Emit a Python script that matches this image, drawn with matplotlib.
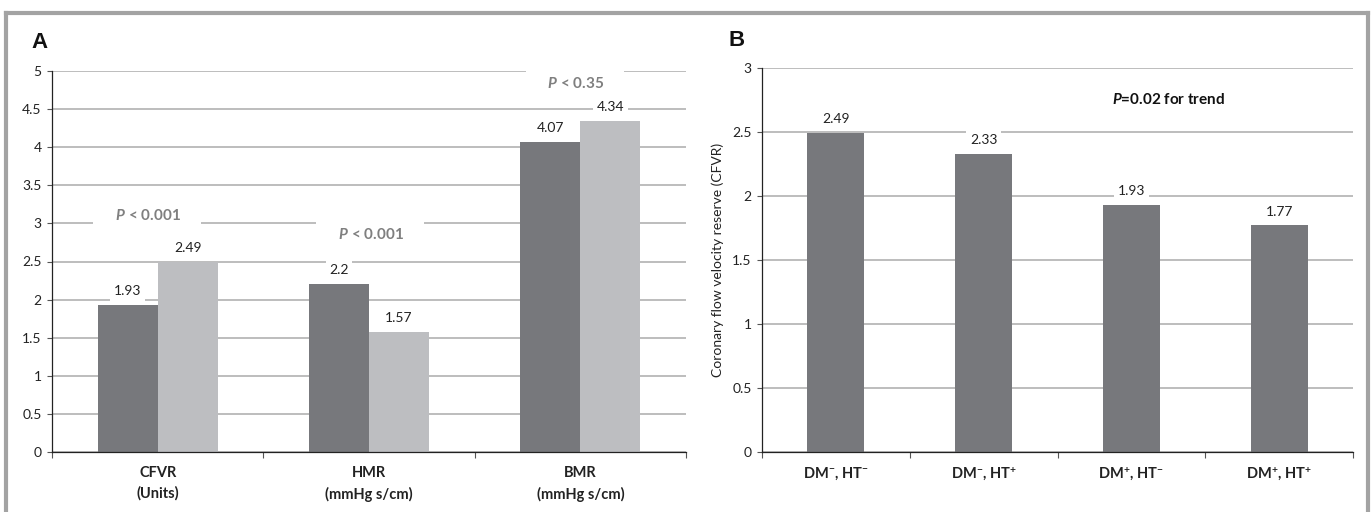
import matplotlib
matplotlib.use("Agg")
from matplotlib import pyplot as plt
from matplotlib.lines import Line2D
import numpy as np

plt.rcParams['font.family'] = ['Lato', 'DejaVu Sans']
plt.rcParams['mathtext.fontset'] = 'custom'
plt.rcParams['mathtext.rm'] = 'Lato:bold'
plt.rcParams['mathtext.it'] = 'Lato:italic:bold'
plt.rcParams['mathtext.bf'] = 'Lato:bold'

# panel A data
a_categories = ["CFVR\n(Units)", "HMR\n(mmHg s/cm)", "BMR\n(mmHg s/cm)"]
a_dark = [1.93, 2.2, 4.07]
a_light = [2.49, 1.57, 4.34]
a_pvalues = ["$P$ < 0.001", "$P$ < 0.001", "$P$ < 0.35"]
a_p_x = [-0.05, 1.005, 1.975]
a_p_y = [3.10, 2.85, 4.84]

# panel B data
b_categories = ["DM$^{-}$, HT$^{-}$", "DM$^{-}$, HT$^{+}$", "DM$^{+}$, HT$^{-}$", "DM$^{+}$, HT$^{+}$"]
b_values = [2.49, 2.33, 1.93, 1.77]
b_ptext = "$P$=0.02 for trend"

dark = "#77787c"
light = "#bdbec1"
grid = "#ababab"

fig = plt.figure(figsize=(13.72, 5.12), dpi=100)
axA = fig.add_axes([52/1372, 60/512, 634/1372, 381/512])
axB = fig.add_axes([762/1372, 60/512, 591/1372, 384/512])


def style(ax, ymax, ncat):
    ax.set_xlim(-0.5, ncat - 0.5)
    ax.set_ylim(0, ymax)
    ax.set_yticks(np.arange(0, ymax + 0.01, 0.5))
    ax.set_yticklabels([f"{v:g}" for v in np.arange(0, ymax + 0.01, 0.5)])
    ax.yaxis.grid(True, color=grid, linewidth=1.1)
    ax.set_axisbelow(True)
    for s in ["top", "right"]:
        ax.spines[s].set_visible(False)
    ax.spines["left"].set_color("#222222")
    ax.spines["bottom"].set_color("#222222")
    ax.spines["left"].set_linewidth(0.9)
    ax.spines["bottom"].set_linewidth(0.9)
    ax.tick_params(axis="y", length=3.5, width=0.8, color="#555555",
                   labelsize=10, labelcolor="#222222", pad=4)
    ax.set_xticks(np.arange(ncat))
    ax.set_xticks(np.arange(-0.5, ncat), minor=True)
    ax.tick_params(axis="x", which="major", length=0, pad=10,
                   labelsize=10.5, labelcolor="#222222")
    ax.tick_params(axis="x", which="minor", length=4, width=0.8, color="#555555")


def label(ax, x, v):
    ax.annotate(f"{v:g}", (x, v), xytext=(0, 10), textcoords="offset points",
                ha="center", va="center", fontsize=10, color="#222222",
                bbox=dict(boxstyle="square,pad=0.25", fc="white", ec="none"))


# panel A
style(axA, 5, len(a_categories))
w = 0.284
xa = np.arange(len(a_categories))
axA.bar(xa - w/2, a_dark, w, color=dark, zorder=2)
axA.bar(xa + w/2, a_light, w, color=light, zorder=2)
for x, v in zip(xa - w/2, a_dark):
    label(axA, x, v)
for x, v in zip(xa + w/2, a_light):
    label(axA, x, v)
axA.set_xticklabels(a_categories, fontweight="bold", linespacing=1.55)
for txt, x, y in zip(a_pvalues, a_p_x, a_p_y):
    axA.text(x, y, "    " + txt + "    ", ha="center", va="center", fontsize=11,
             color="#7f7f7f", fontweight="bold",
             bbox=dict(boxstyle="square,pad=0.5", fc="white", ec="none"), zorder=3)

# panel B
style(axB, 3, len(b_categories))
xb = np.arange(len(b_categories))
axB.bar(xb, b_values, 0.386, color=dark, zorder=2)
for x, v in zip(xb, b_values):
    label(axB, x, v)
axB.set_xticklabels(b_categories, fontweight="bold")
axB.text(2.25, 2.75, b_ptext, ha="center", va="center", fontsize=11,
         color="#111111", fontweight="bold")
axB.set_ylabel("Coronary flow velocity reserve (CFVR)", fontsize=10,
               color="#222222", labelpad=6)

fig.text(40/1372, 1 - 42/512, "A", fontsize=16, fontweight="bold",
         family="Liberation Sans", ha="center", va="center", color="#111111")
fig.text(737/1372, 1 - 40/512, "B", fontsize=16, fontweight="bold",
         family="Liberation Sans", ha="center", va="center", color="#111111")

# outer frame
fc = "#a3a3a3"
fig.add_artist(Line2D([6/1372, 6/1372], [0, 1 - 13/512], color=fc, lw=3,
                      transform=fig.transFigure, solid_capstyle="projecting"))
fig.add_artist(Line2D([6/1372, 1368/1372], [1 - 13/512, 1 - 13/512], color=fc, lw=3,
                      transform=fig.transFigure, solid_capstyle="projecting"))
fig.add_artist(Line2D([1368/1372, 1368/1372], [0, 1 - 13/512], color=fc, lw=3,
                      transform=fig.transFigure, solid_capstyle="projecting"))

fig.savefig("out.png", dpi=100)
